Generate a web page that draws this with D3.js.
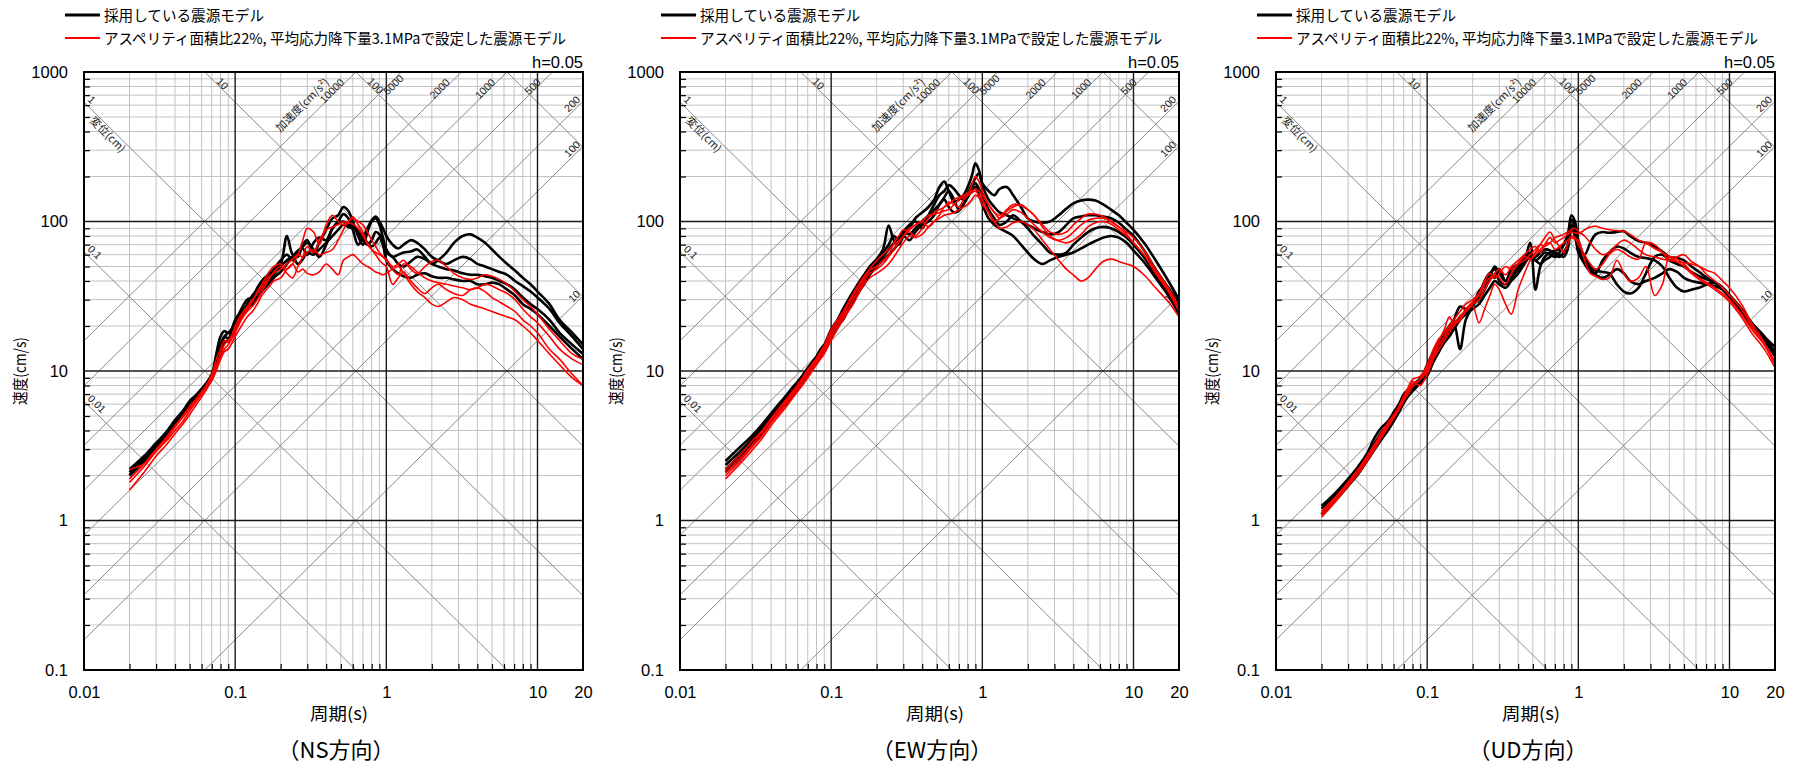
<!DOCTYPE html>
<html><head><meta charset="utf-8">
<script src="https://cdn.jsdelivr.net/npm/d3@7"></script>
<style>
html,body{margin:0;padding:0;background:#fff;}
svg{display:block;}
</style></head>
<body>
<svg id="chart" width="1798" height="767"></svg>
<script>
// ---------------- data ----------------
const periods = [0.02,0.025,0.03,0.035,0.04,0.045,0.05,0.055,0.06,0.065,
  0.07,0.075,0.08,0.085,0.09,0.1,0.11,0.12,0.13,0.14,
  0.15,0.165,0.18,0.2,0.22,0.24,0.26,0.28,0.3,0.33,
  0.36,0.4,0.44,0.48,0.52,0.56,0.6,0.65,0.7,0.75,
  0.8,0.85,0.9,0.95,1.0,1.1,1.2,1.3,1.45,1.6,
  1.8,2.0,2.2,2.5,2.8,3.2,3.6,4.0,4.5,5.0,
  5.6,6.3,7.1,8.0,9.0,10,12,14,17,20];

const nsBlack = [
  [2.2,2.7,3.3,3.9,4.7,5.4,6.3,6.9,7.6,8.4, 9.5,13,17,18.5,18,21,26,30,31,36, 40,44,47,52,80,60,58,70,75,62,
   72,88,105,110,125,118,100,80,70,85, 100,105,95,78,65,58,60,62,63,65, 58,52,55,62,72,80,82,78,72,65, 58,52,47,42,38,34,28,22,18,15],
  [2.1,2.6,3.2,3.8,4.6,5.3,6.1,6.8,7.5,8.2, 9.2,11,14,17,18,20,24,28,32,35, 38,42,48,55,60,55,62,68,72,65,
   58,70,90,100,112,105,88,70,78,90, 102,108,100,90,80,70,66,70,75,72, 65,58,55,52,55,58,56,52,50,48, 46,44,40,37,34,31,26,21,17,14],
  [2.0,2.5,3.1,3.6,4.4,5.0,5.8,6.5,7.2,7.9, 8.8,10.5,13,15.5,16,19,23,26,29,31, 34,38,42,46,52,58,64,66,60,72,
   78,75,90,98,100,95,92,85,75,70, 75,85,82,70,62,58,52,50,54,58, 56,52,50,48,47,45,44,44,43,42, 40,38,35,31,28,26,22,18,15,13],
  [2.0,2.55,3.2,3.7,4.5,5.2,6.0,6.6,7.2,8.0, 9.0,12,15,17,16.5,22,25,27,28,33, 36,40,44,50,55,58,52,56,62,60,
   65,72,80,88,95,92,90,88,80,72, 68,72,78,70,55,48,45,43,42,44, 45,43,42,42,41,40,40,38,38,39, 38,35,32,28,26,24,20,17,14,12]
];
const nsRed = [
  [1.9,2.4,3.0,3.6,4.3,5.0,5.8,6.5,7.3,8.1, 9.2,11,13,15,16,19,23,26,29,34, 38,45,50,52,48,52,60,75,90,85,
   70,95,110,100,95,100,108,95,85,70, 65,62,60,58,56,50,52,55,48,45, 50,54,55,50,45,42,41,42,44,43, 41,38,34,30,27,24,19,16,13,12],
  [1.8,2.3,2.9,3.4,4.0,4.6,5.4,6.2,7.0,8.0, 9.0,10.5,12,14,15,18,22,25,27,30, 34,40,46,50,45,42,50,58,68,62,
   75,88,92,95,100,98,96,90,80,72, 65,60,55,52,50,38,42,46,40,36, 33,36,38,35,33,32,35,36,34,31, 29,27,25,22,20,18,14,12,9.5,8],
  [1.6,2.1,2.7,3.2,3.8,4.4,5.1,5.9,6.7,7.6, 8.7,10,12,13.5,14,17,20,23,25,28, 32,36,40,42,48,52,46,48,45,44,
   46,52,48,44,55,58,60,56,52,50, 48,46,45,44,45,48,50,45,38,34, 31,28,27,29,31,30,28,27,26,25, 24,23,22,20,18,16,13,11,9,8],
  [2.2,2.4,2.9,3.5,4.2,4.9,5.6,6.4,7.0,8.2, 9.5,12,14,16,15.5,20,24,27,30,33, 36,42,45,48,52,56,60,58,62,65,
   60,62,65,75,88,100,105,100,95,85, 75,68,62,58,55,48,44,52,50,46, 42,40,39,38,37,36,35,36,38,37, 35,33,30,26,23,21,17,14,12,11]
];
const ewBlack = [
  [2.5,3.1,3.7,4.4,5.2,6.0,6.8,7.7,8.5,9.4, 10.5,11.5,12.5,14,15,19,22,26,30,34, 38,44,50,56,65,94,75,70,80,90,
   105,115,125,140,170,185,160,135,140,150, 170,200,245,220,180,160,150,165,170,150, 125,105,100,98,100,110,122,132,138,140, 138,130,120,110,98,88,70,55,40,30],
  [2.35,2.9,3.5,4.2,5.0,5.8,6.6,7.4,8.2,9.1, 10.2,11.2,12.2,13.5,14.5,18,21,24,28,32, 36,42,48,55,62,70,80,75,85,95,
   100,90,110,130,150,160,175,165,150,140, 155,175,195,210,175,140,125,115,110,105, 100,95,90,85,82,85,95,105,108,110, 110,108,105,98,88,80,62,48,36,28],
  [2.2,2.75,3.35,4.0,4.8,5.5,6.3,7.1,7.9,8.8, 9.8,10.8,11.8,13,14,17,20,23,27,31, 35,40,46,52,58,65,72,78,85,82,
   90,100,110,120,130,145,160,140,120,130, 150,170,180,165,150,120,105,95,100,110, 100,90,80,70,62,60,62,70,78,85, 90,92,90,85,78,70,56,44,33,26],
  [2.1,2.6,3.2,3.8,4.6,5.3,6.0,6.8,7.6,8.5, 9.5,10.5,11.5,12.5,13.5,17,20,22,26,29, 33,38,44,50,55,60,65,72,80,75,
   85,95,100,110,130,140,125,115,118,130, 145,160,170,150,130,105,95,90,85,80, 70,62,56,52,55,58,60,62,66,70, 74,78,80,78,72,64,52,42,32,24]
];
const ewRed = [
  [2.1,2.6,3.2,3.9,4.7,5.4,6.2,7.0,7.9,8.8, 9.9,10.8,11.8,13,14.2,18,21,24,28,32, 36,42,47,50,55,60,72,80,88,85,
   80,90,105,115,120,125,135,130,125,140, 150,175,200,185,160,130,115,110,118,125, 130,120,110,95,85,82,85,95,105,112, 112,108,100,92,85,78,62,48,36,27],
  [2.0,2.5,3.1,3.7,4.5,5.2,6.0,6.8,7.6,8.5, 9.5,10.5,11.5,12.5,13.5,17,20,23,26,30, 34,40,45,48,52,58,65,72,80,90,
   95,100,110,112,115,118,120,130,140,145, 150,155,160,150,140,115,100,105,120,130, 128,120,110,92,80,75,78,85,95,102, 105,105,100,92,82,72,58,45,34,25],
  [1.9,2.4,2.95,3.55,4.3,5.0,5.7,6.5,7.3,8.1, 9.0,10,11,12,13,16,19,22,25,28, 32,38,42,45,48,52,58,65,72,80,
   78,82,92,100,105,110,112,115,120,125, 130,140,150,145,130,115,100,90,92,98, 100,95,88,75,65,55,48,44,40,42, 48,54,56,54,52,50,43,36,29,23],
  [2.2,2.75,3.4,4.0,4.8,5.6,6.4,7.2,8.1,9.1, 10.2,11.2,12.2,13.5,14.8,19,22,25,29,33, 37,43,48,55,60,65,70,74,80,88,
   95,100,92,100,110,125,130,140,145,150, 155,160,165,160,150,130,115,105,112,120, 115,105,95,85,78,74,72,75,82,92, 98,100,96,88,80,72,58,46,35,26]
];
const udBlack = [
  [1.25,1.55,1.9,2.3,2.8,3.6,4.2,4.6,5.3,6.0, 7.0,7.5,8.0,8.5,8.8,11,13.5,16,18,20, 22,27,26,28,30,35,42,50,45,40,
   48,52,58,62,55,58,62,60,58,62, 70,80,110,100,75,60,72,82,85,84, 85,86,80,74,72,68,63,58,57,55, 50,46,42,39,36,32,26,21,17,14.5],
  [1.2,1.5,1.85,2.25,2.7,3.3,3.9,4.4,5.0,5.7, 6.7,7.2,7.6,8.2,9,10.5,13,15,17,19, 21,14,22,27,32,40,45,42,48,40,
   45,50,55,72,35,50,58,62,64,65, 70,80,103,90,65,55,48,45,55,62, 68,66,62,58,57,55,50,42,36,34, 35,36,38,39,36,32,26,21,16.5,13.5],
  [1.1,1.4,1.75,2.1,2.55,3.1,3.6,4.2,4.8,5.5, 6.3,7.0,7.5,8.0,8.5,9.8,12,14,16,18, 20,23,25,28,34,38,45,48,40,38,
   42,48,55,60,58,62,65,64,60,58, 62,70,95,85,70,58,50,47,46,45, 38,34,33,36,45,58,60,55,52,50, 46,43,41,39,36,32,26,21,17,13],
  [1.1,1.38,1.7,2.05,2.5,3.0,3.5,4.0,4.6,5.3, 6.1,6.8,7.3,7.8,8.3,9.3,11.5,13.5,15.5,17, 19,22,24,26,28,32,36,40,38,36,
   40,45,52,58,55,52,55,58,62,60, 58,65,88,80,62,52,46,44,42,44, 48,45,40,38,40,42,45,48,46,42, 40,39,38,37,35,31,25,20,16,12.5]
];
const udRed = [
  [1.15,1.45,1.8,2.2,2.65,3.2,3.8,4.4,5.0,5.7, 6.6,7.3,8.2,8.5,8.8,10,12.5,15,17,19, 21,23,26,29,32,38,42,45,48,44,
   50,55,60,65,68,62,70,78,72,75, 78,82,85,84,83,88,92,93,90,88, 87,86,82,75,72,66,62,58,54,50, 45,41,38,35,32,29,23,18,14,10.5],
  [1.1,1.4,1.75,2.15,2.6,3.1,3.7,4.3,4.9,5.6, 6.5,7.5,8.5,8.2,8.0,9.5,12,14,16,18, 20,22,25,28,30,35,40,44,42,38,
   45,52,58,56,60,65,70,72,65,68, 72,75,78,76,75,55,45,43,41,42, 55,45,40,42,50,32,38,58,56,52, 46,42,39,36,33,30,24,19,15,11.5],
  [1.05,1.35,1.7,2.05,2.5,3.0,3.6,4.2,4.8,5.5, 6.3,7.0,7.8,8.3,8.8,10.5,13,16,19,23, 21,22,25,27,21,26,32,38,35,28,
   24,35,45,55,62,70,78,85,75,68, 62,70,80,78,70,60,52,48,52,60, 65,62,58,56,72,70,62,55,58,60, 54,50,44,40,36,32,26,20,15,11],
  [1.1,1.42,1.8,2.2,2.7,3.25,3.9,4.5,5.1,5.8, 6.8,7.8,8.8,9.0,9.2,11,14,16.5,18,20, 22,25,28,30,33,40,45,42,45,50,
   48,52,55,60,65,70,68,72,78,80, 82,85,88,90,86,80,72,65,60,62, 70,75,72,65,60,58,56,55,54,53, 52,50,47,45,40,36,28,21,15.5,11.4]
];

const panelNames = ["（NS方向）","（EW方向）","（UD方向）"];
const xTickValues = [0.01,0.1,1,10,20];
const xTickLabels = ["0.01","0.1","1","10","20"];
const yTickValues = [0.1,1,10,100,1000];
const yTickLabels = ["0.1","1","10","100","1000"];
const dispLines = [0.01,0.1,1,10,100,1000];               // displacement (cm)
const accLines = [10,100,200,500,1000,2000,5000,10000];   // acceleration (cm/s2)
const accTopLabels = [10000,5000,2000,1000,500];
const accRightLabels = [200,100,10];
const dispTopLabels = [10,100];
const dispLeftLabels = [1,0.1,0.01];
const legendLabels = ["採用している震源モデル","アスペリティ面積比22%, 平均応力降下量3.1MPaで設定した震源モデル"];
const dampingLabel = "h=0.05";
const xTitle = "周期(s)";
const yTitle = "速度(cm/s)";
const dispTitle = "変位(cm)";
const accTitle = "加速度(cm/s²)";

// ---------------- drawing ----------------
const panels = [
  {black: nsBlack, red: nsRed, name: panelNames[0]},
  {black: ewBlack, red: ewRed, name: panelNames[1]},
  {black: udBlack, red: udRed, name: panelNames[2]}
];
const LEFTS = [84, 680, 1276];
const TOP = 72, W = 499, H = 598;
const TWO_PI = 2 * Math.PI;
const NUM_FONT = "'Liberation Sans', Arial, sans-serif";
const JP_FONT = "'Noto Sans CJK JP', 'Noto Sans', sans-serif";

const svg = d3.select("#chart");
const x = d3.scaleLog().domain([0.01, 20]).range([0, W]);
const y = d3.scaleLog().domain([0.1, 1000]).range([H, 0]);

const xMinor = [], yMinor = [];
[0.01, 0.1, 1, 10].forEach(d => { for (let k = 2; k <= 9; k++) { const v = +(k * d).toPrecision(3); if (v < 20) xMinor.push(v); } });
[0.1, 1, 10, 100].forEach(d => { for (let k = 2; k <= 9; k++) yMinor.push(+(k * d).toPrecision(3)); });
const xMajor = [0.1, 1, 10];
const yMajor = [1, 10, 100];

const line = d3.line().x(d => x(d[0])).y(d => y(d[1])).curve(d3.curveCatmullRom.alpha(0.5));

panels.forEach((p, pi) => {
  const g = svg.append("g").attr("transform", `translate(${LEFTS[pi]},${TOP})`);
  const clipId = "clip" + pi;
  g.append("clipPath").attr("id", clipId).append("rect").attr("width", W).attr("height", H);

  // minor grid
  g.append("g").selectAll("line").data(xMinor).join("line")
    .attr("x1", d => x(d)).attr("x2", d => x(d)).attr("y1", 0).attr("y2", H)
    .attr("stroke", "#c2c2c2").attr("stroke-width", 1);
  g.append("g").selectAll("line").data(yMinor).join("line")
    .attr("y1", d => y(d)).attr("y2", d => y(d)).attr("x1", 0).attr("x2", W)
    .attr("stroke", "#c2c2c2").attr("stroke-width", 1);

  // diagonal tripartite lines
  const diag = g.append("g").attr("clip-path", `url(#${clipId})`);
  dispLines.forEach(sd => {
    const t0 = 0.001, t1 = 100;
    diag.append("line")
      .attr("x1", x(t0)).attr("y1", y(TWO_PI * sd / t0))
      .attr("x2", x(t1)).attr("y2", y(TWO_PI * sd / t1))
      .attr("stroke", "#8a8a8a").attr("stroke-width", 1);
  });
  accLines.forEach(sa => {
    const t0 = 0.001, t1 = 100;
    diag.append("line")
      .attr("x1", x(t0)).attr("y1", y(sa * t0 / TWO_PI))
      .attr("x2", x(t1)).attr("y2", y(sa * t1 / TWO_PI))
      .attr("stroke", "#8a8a8a").attr("stroke-width", 1);
  });

  // major grid
  g.append("g").selectAll("line").data(xMajor).join("line")
    .attr("x1", d => x(d)).attr("x2", d => x(d)).attr("y1", 0).attr("y2", H)
    .attr("stroke", "#1a1a1a").attr("stroke-width", 1.4);
  g.append("g").selectAll("line").data(yMajor).join("line")
    .attr("y1", d => y(d)).attr("y2", d => y(d)).attr("x1", 0).attr("x2", W)
    .attr("stroke", "#1a1a1a").attr("stroke-width", 1.4);

  // diagonal labels
  const lab = g.append("g").attr("font-family", NUM_FONT).attr("font-size", 10.5).attr("fill", "#222");
  accTopLabels.forEach(sa => {
    const xt = x(TWO_PI * 1000 / sa);
    const off = sa === 5000 ? -3 : 11;
    lab.append("text").attr("text-anchor", "end")
      .attr("transform", `translate(${xt - off},${sa === 5000 ? 7 : 11}) rotate(-45)`).text(sa);
  });
  accRightLabels.forEach(sa => {
    const yr = y(sa * 20 / TWO_PI);
    lab.append("text").attr("text-anchor", "end")
      .attr("transform", `translate(${W - 2},${yr - 1}) rotate(-45)`).text(sa);
  });
  {
    const xt = x(TWO_PI * 1000 / 10000);
    lab.append("text").attr("text-anchor", "end").attr("font-family", JP_FONT).attr("font-size", 11)
      .attr("transform", `translate(${xt - 26},${11}) rotate(-45)`).text(accTitle);
  }
  dispTopLabels.forEach(sd => {
    const xt = x(TWO_PI * sd / 1000);
    lab.append("text").attr("text-anchor", "start")
      .attr("transform", `translate(${xt + 11},${10}) rotate(45)`).text(sd);
  });
  dispLeftLabels.forEach(sd => {
    const yl = y(TWO_PI * sd / 0.01);
    lab.append("text").attr("text-anchor", "start")
      .attr("transform", `translate(${3},${yl - 2}) rotate(45)`).text(sd);
  });
  {
    const yl = y(TWO_PI * 1 / 0.01);
    lab.append("text").attr("text-anchor", "start").attr("font-family", JP_FONT).attr("font-size", 11)
      .attr("transform", `translate(${5},${yl + 19}) rotate(45)`).text(dispTitle);
  }

  // spectra
  const curves = g.append("g").attr("clip-path", `url(#${clipId})`).attr("fill", "none");
  p.black.forEach(s => {
    curves.append("path").attr("d", line(periods.map((t, i) => [t, s[i]])))
      .attr("stroke", "#000").attr("stroke-width", 2.6).attr("stroke-linejoin", "round");
  });
  p.red.forEach(s => {
    curves.append("path").attr("d", line(periods.map((t, i) => [t, s[i]])))
      .attr("stroke", "#ff0000").attr("stroke-width", 1.6).attr("stroke-linejoin", "round");
  });

  // inward minor ticks
  g.append("g").call(d3.axisLeft(y).tickValues(yMinor).tickSize(-6).tickFormat(""))
    .call(a => a.select(".domain").remove())
    .selectAll("line").attr("stroke", "#000").attr("stroke-width", 1.2);
  g.append("g").attr("transform", `translate(0,${H})`)
    .call(d3.axisBottom(x).tickValues(xMinor).tickSize(-6).tickFormat(""))
    .call(a => a.select(".domain").remove())
    .selectAll("line").attr("stroke", "#000").attr("stroke-width", 1.2);

  // border
  g.append("rect").attr("width", W).attr("height", H).attr("fill", "none")
    .attr("stroke", "#000").attr("stroke-width", 2);

  // tick labels
  const ya = g.append("g").call(d3.axisLeft(y).tickValues(yTickValues)
      .tickFormat((d, i) => yTickLabels[i]).tickSize(0).tickPadding(16));
  ya.select(".domain").remove();
  ya.selectAll("text").attr("font-family", NUM_FONT).attr("font-size", 16.5).attr("fill", "#000");
  const xa = g.append("g").attr("transform", `translate(0,${H})`)
    .call(d3.axisBottom(x).tickValues(xTickValues).tickFormat((d, i) => xTickLabels[i]).tickSize(0).tickPadding(16));
  xa.select(".domain").remove();
  xa.selectAll("text").attr("font-family", NUM_FONT).attr("font-size", 16.5).attr("fill", "#000");

  // axis titles
  g.append("text").attr("x", 255).attr("y", H + 50).attr("text-anchor", "middle")
    .attr("font-family", JP_FONT).attr("font-size", 17).attr("textLength", 58)
    .attr("lengthAdjust", "spacingAndGlyphs").text(xTitle);
  g.append("text").attr("transform", `translate(${-58},${H / 2}) rotate(-90)`).attr("text-anchor", "middle")
    .attr("font-family", JP_FONT).attr("font-size", 16).attr("textLength", 68)
    .attr("lengthAdjust", "spacingAndGlyphs").text(yTitle);

  // damping
  g.append("text").attr("x", W).attr("y", -4).attr("text-anchor", "end")
    .attr("font-family", NUM_FONT).attr("font-size", 16.5).text(dampingLabel);

  // legend
  const lg = g.append("g").attr("transform", `translate(0,${-TOP})`);
  lg.append("line").attr("x1", -19).attr("x2", 16).attr("y1", 15).attr("y2", 15)
    .attr("stroke", "#000").attr("stroke-width", 3);
  lg.append("text").attr("x", 20).attr("y", 20.5).attr("font-family", JP_FONT).attr("font-size", 15)
    .attr("textLength", 160).attr("lengthAdjust", "spacingAndGlyphs").text(legendLabels[0]);
  lg.append("line").attr("x1", -19).attr("x2", 16).attr("y1", 38).attr("y2", 38)
    .attr("stroke", "#ff0000").attr("stroke-width", 2);
  lg.append("text").attr("x", 20).attr("y", 43.5).attr("font-family", JP_FONT).attr("font-size", 15)
    .attr("textLength", 462).attr("lengthAdjust", "spacingAndGlyphs").text(legendLabels[1]);

  // panel title
  g.append("text").attr("x", 252).attr("y", H + 88).attr("text-anchor", "middle")
    .attr("font-family", JP_FONT).attr("font-size", 22).text(p.name);
});
</script>
</body></html>
